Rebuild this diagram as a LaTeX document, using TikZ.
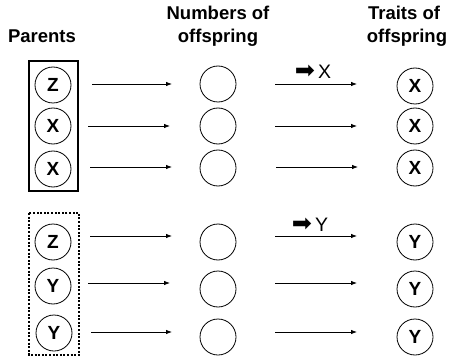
\documentclass[tikz,border=0pt]{standalone}
\usepackage{fontspec}
\setmainfont{Liberation Sans}
\newfontfamily\symfont{DejaVu Sans}
\usetikzlibrary{arrows.meta}
\begin{document}
\begin{tikzpicture}[x=1pt,y=-1pt,
  head/.style={anchor=base,font=\fontsize{18.5}{20}\selectfont\bfseries,inner sep=0pt},
  circ/.style={circle,draw,line width=0.8pt,minimum size=36pt,inner sep=0pt,font=\fontsize{19}{19}\selectfont\bfseries},
  arr/.style={line width=0.8pt,-{Latex[length=6pt,width=4.5pt]}},
  lab/.style={anchor=base,inner sep=0pt,font=\fontsize{19.5}{19.5}\selectfont}]
\useasboundingbox (0,0) rectangle (449,358);
% headings
\node[head] (h1) at (42,43) {Parents};
\node[head] (h2a) at (218,20) {Numbers of};
\node[head] (h2b) at (218,43) {offspring};
\node[head] (h3a) at (404,20) {Traits of};
\node[head] (h3b) at (407,43) {offspring};
% boxes
\draw[line width=2pt] (29,61) rectangle (78,191);
\draw[line width=2pt,dash pattern=on 2pt off 1.6pt] (29,213) rectangle (79,355);
% top group
\node[circ] (p1) at (53,85) {Z};
\node[circ] (p2) at (53,126) {X};
\node[circ] (p3) at (53,169) {X};
\node[circ] (m1) at (218,84) {};
\node[circ] (m2) at (218,126) {};
\node[circ] (m3) at (218,168) {};
\node[circ] (t1) at (415,86) {X};
\node[circ] (t2) at (415,126) {X};
\node[circ] (t3) at (415,168) {X};
% bottom group
\node[circ] (q1) at (53,242) {Z};
\node[circ] (q2) at (53,286) {Y};
\node[circ] (q3) at (54,333) {Y};
\node[circ] (n1) at (218,242) {};
\node[circ] (n2) at (218,289) {};
\node[circ] (n3) at (218,337) {};
\node[circ] (u1) at (415,242) {Y};
\node[circ] (u2) at (415,289) {Y};
\node[circ] (u3) at (415,337) {Y};
% arrow end points
\coordinate (a1s) at (92,84);  \coordinate (a1e) at (172,84);
\coordinate (b1s) at (275,84); \coordinate (b1e) at (357,84);
\coordinate (a2s) at (88,126); \coordinate (a2e) at (170,126);
\coordinate (b2s) at (275,126); \coordinate (b2e) at (357,126);
\coordinate (a3s) at (90,167); \coordinate (a3e) at (172,167);
\coordinate (b3s) at (276,167); \coordinate (b3e) at (358,167);
\coordinate (c1s) at (90,236); \coordinate (c1e) at (172,236);
\coordinate (d1s) at (275,236); \coordinate (d1e) at (357,236);
\coordinate (c2s) at (88,283); \coordinate (c2e) at (170,283);
\coordinate (d2s) at (275,283); \coordinate (d2e) at (357,283);
\coordinate (c3s) at (91,332); \coordinate (c3e) at (172,332);
\coordinate (d3s) at (275,332); \coordinate (d3e) at (357,332);
\foreach \s/\e in {a1s/a1e,b1s/b1e,a2s/a2e,b2s/b2e,a3s/a3e,b3s/b3e,c1s/c1e,d1s/d1e,c2s/c2e,d2s/d2e,c3s/c3e,d3s/d3e}
  \draw[arr] (\s) -- (\e);
% labels
\node[lab] (lx) at (313,79) {{\symfont\fontsize{24}{24}\selectfont ➡}\,X};
\node[lab] (ly) at (310,231) {{\symfont\fontsize{24}{24}\selectfont ➡}\,Y};
\end{tikzpicture}
\end{document}
